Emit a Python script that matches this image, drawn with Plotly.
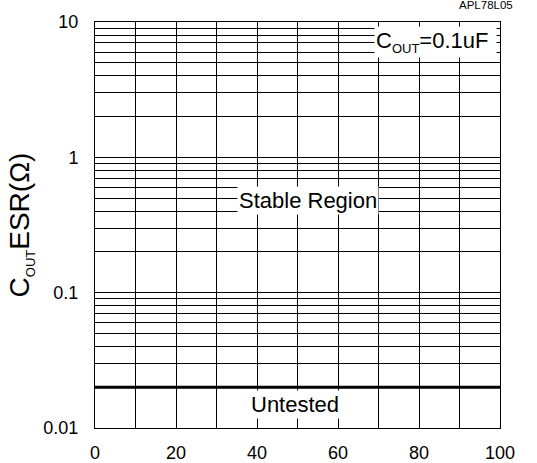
import plotly.graph_objects as go
import numpy as np

# data
boundary_x = [0, 100]
boundary_esr = [0.02, 0.02]
x_ticks = [0, 20, 40, 60, 80, 100]
x_grid = [0, 10, 20, 30, 40, 50, 60, 70, 80, 90, 100]
y_decades = [0.01, 0.1, 1, 10]
y_decade_labels = ["0.01", "0.1", "1", "10"]
y_minor_mult = [2, 3, 4, 5, 6, 7, 8, 9]

y_vals = []
y_text = []
for d, lab in zip(y_decades, y_decade_labels):
    y_vals.append(d)
    y_text.append(lab)
    if d < 10:
        for m in y_minor_mult:
            y_vals.append(d * m)
            y_text.append("")

FONT = "Liberation Sans, Arial, sans-serif"

fig = go.Figure()
fig.add_trace(go.Scatter(x=boundary_x, y=boundary_esr, mode="lines",
                         line=dict(color="black", width=3), showlegend=False,
                         hoverinfo="skip"))

fig.update_layout(
    width=537, height=463,
    margin=dict(l=95, r=37, t=22, b=35),
    paper_bgcolor="white", plot_bgcolor="white",
    font=dict(family=FONT, color="black", size=18),
    showlegend=False,
)
fig.update_xaxes(
    range=[0, 100], tickvals=x_grid,
    ticktext=[str(v) if v in x_ticks else "" for v in x_grid],
    showgrid=True, gridcolor="black", gridwidth=1,
    showline=True, linecolor="black", linewidth=1, mirror=True,
    ticks="outside", ticklen=8, tickcolor="white", automargin=False,
    zeroline=False, tickfont=dict(size=18, family=FONT),
)
fig.update_yaxes(
    type="log", range=[-2, 1], tickvals=y_vals, ticktext=y_text,
    showgrid=True, gridcolor="black", gridwidth=1,
    showline=True, linecolor="black", linewidth=1, mirror=True,
    ticks="outside", ticklen=12, tickcolor="white", automargin=False,
    zeroline=False, tickfont=dict(size=18, family=FONT),
    title=dict(text="C<sub><span style='font-size:13px'>OUT</span></sub>ESR(Ω)",
               font=dict(size=28, family=FONT), standoff=5),
)

ann_font = dict(size=22, family=FONT, color="black")
fig.add_annotation(x=84.0, y=np.log10(7.1), xref="x", yref="y",
                   text="C<sub><span style='font-size:13px'>OUT</span></sub>=0.1uF ",
                   showarrow=False, font=ann_font, bgcolor="white", xanchor="center")
fig.add_annotation(x=52.7, y=np.log10(0.477), xref="x", yref="y", text="Stable Region",
                   showarrow=False, font=ann_font, bgcolor="white")
fig.add_annotation(x=49.5, y=np.log10(0.0148), xref="x", yref="y", text="Untested",
                   showarrow=False, font=ann_font, bgcolor="white")
fig.add_annotation(x=1, y=1, xref="paper", yref="paper", xshift=15, yshift=17,
                   text="APL78L05", showarrow=False,
                   font=dict(size=11.5, family=FONT, color="black"), xanchor="right", yanchor="middle")

fig.write_html("out.html", config={"displayModeBar": False},
               post_script="document.body.style.margin='0px';")
